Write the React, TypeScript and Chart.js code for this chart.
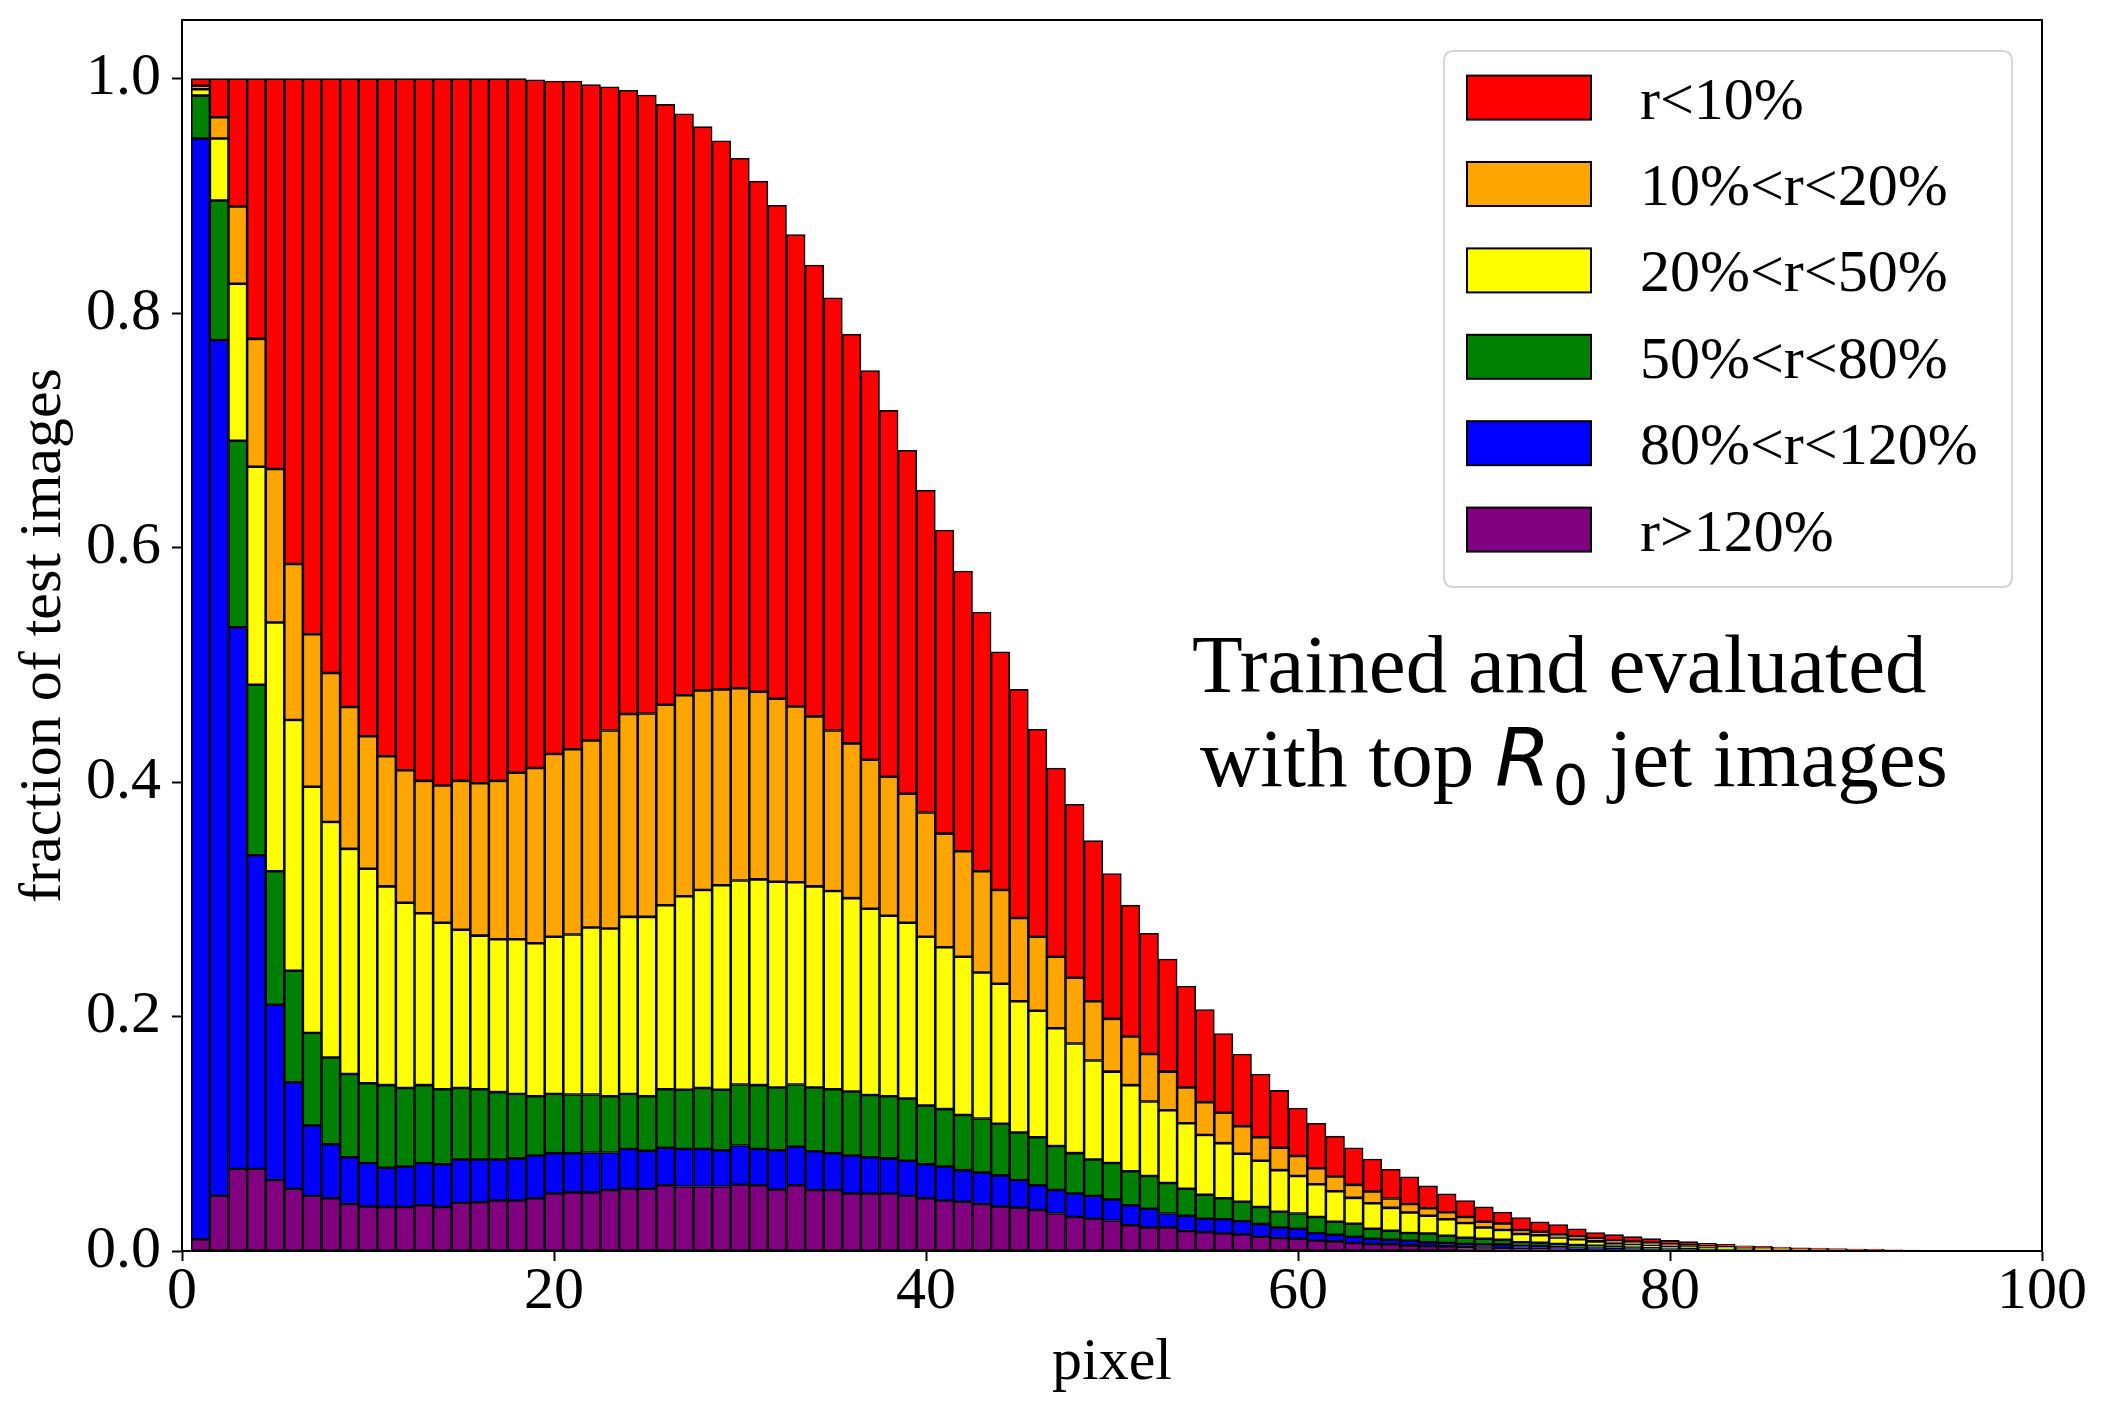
import React, { useEffect, useRef } from "react";
import { Chart, registerables } from "chart.js";

Chart.register(...registerables);

// bin centres (pixel index)
const pixels = [
  1, 2, 3, 4, 5, 6, 7, 8, 9, 10, 11, 12, 13, 14, 15, 16, 17, 18, 19, 20,
  21, 22, 23, 24, 25, 26, 27, 28, 29, 30, 31, 32, 33, 34, 35, 36, 37, 38, 39, 40,
  41, 42, 43, 44, 45, 46, 47, 48, 49, 50, 51, 52, 53, 54, 55, 56, 57, 58, 59, 60,
  61, 62, 63, 64, 65, 66, 67, 68, 69, 70, 71, 72, 73, 74, 75, 76, 77, 78, 79, 80,
  81, 82, 83, 84, 85, 86, 87, 88, 89, 90, 91, 92, 93, 94, 95, 96, 97, 98,
];

// cumulative heights (top edge of each layer)
const topPurple = [
  0.010, 0.047, 0.070, 0.070, 0.0605, 0.053, 0.047, 0.045, 0.040, 0.038,
  0.0375, 0.0375, 0.039, 0.0375, 0.041, 0.0415, 0.043, 0.043, 0.045, 0.049,
  0.050, 0.050, 0.052, 0.053, 0.053, 0.056, 0.055, 0.055, 0.055, 0.0565,
  0.056, 0.0525, 0.056, 0.052, 0.052, 0.049, 0.049, 0.049, 0.047, 0.045,
  0.043, 0.042, 0.040, 0.038, 0.037, 0.035, 0.032, 0.029, 0.0275, 0.026,
  0.022, 0.020, 0.020, 0.017, 0.016, 0.015, 0.014, 0.012, 0.011, 0.0105,
  0.0088, 0.0082, 0.0068, 0.006, 0.0057, 0.0048, 0.0042, 0.004, 0.0031, 0.003,
  0.0023, 0.002, 0.0018, 0.0015, 0.0012, 0.001, 0.0009, 0.0008, 0.0007, 0.0006,
  0.0005, 0.0004, 0.0003, 0.0003, 0.0002, 0.0002, 0.0001, 0.0001, 0.0001, 0.0001,
  0, 0, 0, 0, 0, 0, 0, 0,
];
const topBlue = [
  0.949, 0.777, 0.532, 0.3375, 0.210, 0.144, 0.107, 0.091, 0.080, 0.075,
  0.071, 0.072, 0.075, 0.074, 0.078, 0.078, 0.078, 0.079, 0.0815, 0.0835,
  0.0835, 0.084, 0.084, 0.087, 0.0855, 0.088, 0.087, 0.087, 0.086, 0.090,
  0.087, 0.086, 0.089, 0.085, 0.0835, 0.0815, 0.080, 0.079, 0.077, 0.074,
  0.072, 0.069, 0.067, 0.0645, 0.0605, 0.056, 0.052, 0.049, 0.047, 0.044,
  0.039, 0.036, 0.032, 0.030, 0.0275, 0.027, 0.0255, 0.023, 0.020, 0.019,
  0.0153, 0.0139, 0.0122, 0.0105, 0.0096, 0.0088, 0.0074, 0.0068, 0.006, 0.0055,
  0.0055, 0.0045, 0.004, 0.0035, 0.003, 0.0025, 0.002, 0.0018, 0.0015, 0.0013,
  0.001, 0.0009, 0.0008, 0.0006, 0.0005, 0.0004, 0.0003, 0.0003, 0.0002, 0.0002,
  0.0001, 0.0001, 0.0001, 0, 0, 0, 0, 0,
];
const topGreen = [
  0.9855, 0.896, 0.691, 0.483, 0.324, 0.239, 0.186, 0.165, 0.151, 0.143,
  0.1415, 0.139, 0.1415, 0.138, 0.139, 0.138, 0.1355, 0.134, 0.132, 0.134,
  0.1335, 0.1335, 0.132, 0.134, 0.132, 0.138, 0.1375, 0.139, 0.1375, 0.142,
  0.1415, 0.1395, 0.142, 0.1395, 0.138, 0.136, 0.133, 0.132, 0.130, 0.124,
  0.121, 0.116, 0.113, 0.1085, 0.101, 0.097, 0.0895, 0.0835, 0.078, 0.075,
  0.068, 0.064, 0.058, 0.053, 0.048, 0.045, 0.042, 0.0375, 0.0335, 0.032,
  0.029, 0.025, 0.0232, 0.019, 0.0173, 0.0153, 0.015, 0.013, 0.0113, 0.0105,
  0.0095, 0.0075, 0.007, 0.006, 0.005, 0.0045, 0.0038, 0.0032, 0.0028, 0.0024,
  0.002, 0.0017, 0.0015, 0.0012, 0.001, 0.0008, 0.0007, 0.0006, 0.0005, 0.0004,
  0.0003, 0.0002, 0.0002, 0.0001, 0.0001, 0, 0, 0,
];
const topYellow = [
  0.991, 0.949, 0.825, 0.669, 0.536, 0.453, 0.396, 0.366, 0.343, 0.326,
  0.311, 0.297, 0.288, 0.280, 0.274, 0.269, 0.266, 0.266, 0.2625, 0.268,
  0.270, 0.276, 0.275, 0.285, 0.285, 0.295, 0.3025, 0.308, 0.312, 0.316,
  0.317, 0.315, 0.3145, 0.311, 0.307, 0.301, 0.292, 0.286, 0.280, 0.268,
  0.259, 0.251, 0.2375, 0.228, 0.213, 0.205, 0.190, 0.177, 0.1625, 0.153,
  0.1415, 0.1275, 0.120, 0.109, 0.099, 0.092, 0.083, 0.077, 0.069, 0.064,
  0.057, 0.051, 0.0453, 0.0408, 0.0368, 0.0329, 0.030, 0.027, 0.0238, 0.020,
  0.018, 0.0145, 0.0135, 0.0115, 0.0100, 0.0082, 0.0065, 0.0055, 0.0048, 0.004,
  0.0035, 0.003, 0.0025, 0.002, 0.0017, 0.0014, 0.0012, 0.001, 0.0008, 0.0007,
  0.0006, 0.0005, 0.0003, 0.0002, 0.0002, 0.0001, 0.0001, 0,
];
const topOrange = [
  0.994, 0.967, 0.891, 0.778, 0.667, 0.586, 0.526, 0.493, 0.464, 0.439,
  0.422, 0.410, 0.401, 0.397, 0.401, 0.399, 0.401, 0.408, 0.412, 0.424,
  0.428, 0.4355, 0.444, 0.458, 0.4585, 0.466, 0.474, 0.478, 0.479, 0.480,
  0.477, 0.471, 0.4645, 0.456, 0.444, 0.433, 0.419, 0.4045, 0.390, 0.374,
  0.356, 0.341, 0.324, 0.308, 0.284, 0.268, 0.251, 0.233, 0.213, 0.198,
  0.183, 0.168, 0.153, 0.1395, 0.127, 0.118, 0.1065, 0.097, 0.088, 0.081,
  0.0705, 0.0635, 0.0564, 0.0507, 0.0448, 0.040, 0.0365, 0.033, 0.029, 0.025,
  0.0235, 0.018, 0.0165, 0.014, 0.0125, 0.011, 0.009, 0.008, 0.007, 0.006,
  0.005, 0.0042, 0.0036, 0.003, 0.0026, 0.0021, 0.0018, 0.0015, 0.0013, 0.0011,
  0.0009, 0.0007, 0.0005, 0.0004, 0.0003, 0.0002, 0.0001, 0.0001,
];
const topRed = [
  1.0, 1.0, 1.0, 1.0, 1.0, 1.0, 1.0, 1.0, 1.0, 1.0,
  1.0, 1.0, 1.0, 1.0, 1.0, 1.0, 1.0, 1.0, 0.999, 0.998,
  0.998, 0.995, 0.993, 0.990, 0.986, 0.978, 0.970, 0.959, 0.947, 0.932,
  0.9125, 0.892, 0.867, 0.841, 0.813, 0.782, 0.751, 0.717, 0.683, 0.649,
  0.615, 0.580, 0.545, 0.511, 0.479, 0.445, 0.412, 0.381, 0.350, 0.322,
  0.295, 0.271, 0.249, 0.226, 0.206, 0.1855, 0.168, 0.151, 0.137, 0.122,
  0.109, 0.098, 0.088, 0.0785, 0.0697, 0.0632, 0.0555, 0.0487, 0.043, 0.0376,
  0.0333, 0.0285, 0.0248, 0.0226, 0.019, 0.0157, 0.0139, 0.0122, 0.0105, 0.009,
  0.008, 0.0066, 0.0057, 0.0045, 0.004, 0.0032, 0.0028, 0.0024, 0.002, 0.0017,
  0.0014, 0.0011, 0.0008, 0.0006, 0.0004, 0.0003, 0.0002, 0.0001,
];

const seriesLabels = ["r>120%", "80%<r<120%", "50%<r<80%", "20%<r<50%", "10%<r<20%", "r<10%"];
const seriesColors = ["#800080", "#0000ff", "#008000", "#ffff00", "#ffa500", "#ff0000"];
const layerTops = [topPurple, topBlue, topGreen, topYellow, topOrange, topRed];

const xTicks = [0, 20, 40, 60, 80, 100];
const yTicks = [0, 0.2, 0.4, 0.6, 0.8, 1.0];

const xTitle = "pixel";
const yTitle = "fraction of test images";
const noteLine1 = "Trained and evaluated";
const noteLine2a = "with top ";
const noteR = "R";
const noteSub = "0";
const noteLine2b = " jet images";

const SERIF = '"Liberation Serif", "Times New Roman", serif';

const W = 2107;
const H = 1412;
const AREA = { left: 182, right: 2042, top: 20, bottom: 1251 };

const decorPlugin = {
  id: "decor",
  afterDraw(chart: any) {
    const ctx = chart.ctx as CanvasRenderingContext2D;
    const a = chart.chartArea;
    ctx.save();
    // full frame (spines)
    ctx.strokeStyle = "#000";
    ctx.lineWidth = 2;
    ctx.strokeRect(a.left, a.top, a.right - a.left, a.bottom - a.top);

    // axis titles
    ctx.fillStyle = "#000";
    ctx.font = `60px ${SERIF}`;
    ctx.textAlign = "center";
    ctx.textBaseline = "alphabetic";
    ctx.fillText(xTitle, (a.left + a.right) / 2, 1379);
    ctx.save();
    ctx.translate(60, (a.top + a.bottom) / 2);
    ctx.rotate(-Math.PI / 2);
    ctx.fillText(yTitle, 0, 0);
    ctx.restore();

    // legend
    const lx = 1444, ly = 51, lw = 568, lh = 536, r = 10;
    ctx.beginPath();
    ctx.moveTo(lx + r, ly);
    ctx.lineTo(lx + lw - r, ly);
    ctx.quadraticCurveTo(lx + lw, ly, lx + lw, ly + r);
    ctx.lineTo(lx + lw, ly + lh - r);
    ctx.quadraticCurveTo(lx + lw, ly + lh, lx + lw - r, ly + lh);
    ctx.lineTo(lx + r, ly + lh);
    ctx.quadraticCurveTo(lx, ly + lh, lx, ly + lh - r);
    ctx.lineTo(lx, ly + r);
    ctx.quadraticCurveTo(lx, ly, lx + r, ly);
    ctx.closePath();
    ctx.fillStyle = "rgba(255,255,255,0.8)";
    ctx.fill();
    ctx.strokeStyle = "#d6d6d6";
    ctx.lineWidth = 2;
    ctx.stroke();

    ctx.textAlign = "left";
    ctx.font = `60px ${SERIF}`;
    for (let i = 0; i < 6; i++) {
      const k = 5 - i; // legend lists red first
      const cy = 97.6 + i * 86.4;
      ctx.fillStyle = seriesColors[k];
      ctx.fillRect(1467, cy - 22, 124, 44);
      ctx.strokeStyle = "#000";
      ctx.lineWidth = 2;
      ctx.strokeRect(1467, cy - 22, 124, 44);
      ctx.fillStyle = "#000";
      ctx.fillText(seriesLabels[k], 1640, cy + 21);
    }

    // annotation
    ctx.fillStyle = "#000";
    ctx.textAlign = "left";
    ctx.font = `83px ${SERIF}`;
    ctx.fillText(noteLine1, 1192, 692);
    let x = 1200;
    const base2 = 786;
    ctx.fillText(noteLine2a, x, base2);
    x += ctx.measureText(noteLine2a).width;
    ctx.font = `oblique 80px "DejaVu Sans"`;
    ctx.fillText(noteR, x, base2);
    x += ctx.measureText(noteR).width + 2;
    ctx.font = `56px "DejaVu Sans"`;
    ctx.fillText(noteSub, x, base2 + 18);
    x += ctx.measureText(noteSub).width;
    ctx.font = `83px ${SERIF}`;
    ctx.fillText(noteLine2b, x, base2);
    ctx.restore();
  },
};

export default function App() {
  const ref = useRef<HTMLCanvasElement | null>(null);

  useEffect(() => {
    if (!ref.current) return;
    const datasets = layerTops.map((tops, k) => ({
      label: seriesLabels[k],
      backgroundColor: seriesColors[k],
      borderColor: "#000",
      borderWidth: 1.6,
      borderSkipped: false as any,
      barPercentage: 1,
      categoryPercentage: 1,
      data: pixels.map((p, i) => ({
        x: p,
        y: Math.max(0, tops[i] - (k > 0 ? layerTops[k - 1][i] : 0)),
      })),
    }));

    const chart = new Chart(ref.current, {
      type: "bar",
      data: { datasets },
      options: {
        animation: false,
        responsive: false,
        devicePixelRatio: 1,
        layout: {
          padding: { top: AREA.top, right: W - AREA.right, left: 0, bottom: 0 },
        },
        plugins: { legend: { display: false }, tooltip: { enabled: false } },
        scales: {
          x: {
            type: "linear",
            min: 0,
            max: 100,
            stacked: true,
            offset: false,
            grid: {
              offset: false,
              drawOnChartArea: false,
              tickLength: 10,
              tickWidth: 2,
              tickColor: "#000",
              color: "#000",
            },
            border: { display: true, color: "#000", width: 2 },
            afterBuildTicks: (scale: any) => {
              scale.ticks = xTicks.map((v) => ({ value: v }));
            },
            ticks: {
              autoSkip: false,
              maxRotation: 0,
              color: "#000",
              padding: 1,
              font: { family: SERIF, size: 60, lineHeight: 1 },
              callback: (v: any) => String(v),
            },
            afterFit: (scale: any) => {
              scale.height = H - AREA.bottom;
              scale.paddingLeft = 0;
              scale.paddingRight = 0;
              scale.paddingTop = 0;
              scale.paddingBottom = 0;
            },
          },
          y: {
            type: "linear",
            min: 0,
            max: 1.05,
            stacked: true,
            grid: {
              drawOnChartArea: false,
              tickLength: 10,
              tickWidth: 2,
              tickColor: "#000",
              color: "#000",
            },
            border: { display: true, color: "#000", width: 2 },
            afterBuildTicks: (scale: any) => {
              scale.ticks = yTicks.map((v) => ({ value: v }));
            },
            ticks: {
              color: "#000",
              padding: 11,
              font: { family: SERIF, size: 60, lineHeight: 1 },
              callback: (v: any) => Number(v).toFixed(1),
            },
            afterFit: (scale: any) => {
              scale.width = AREA.left;
              scale.paddingTop = 0;
              scale.paddingBottom = 0;
              scale.paddingLeft = 0;
              scale.paddingRight = 0;
            },
          },
        },
      },
      plugins: [decorPlugin],
    });
    return () => chart.destroy();
  }, []);

  return (
    <div style={{ position: "absolute", left: 0, top: 0, width: W, height: H, background: "#fff" }}>
      <canvas ref={ref} width={W} height={H} style={{ width: W, height: H, display: "block" }} />
    </div>
  );
}
